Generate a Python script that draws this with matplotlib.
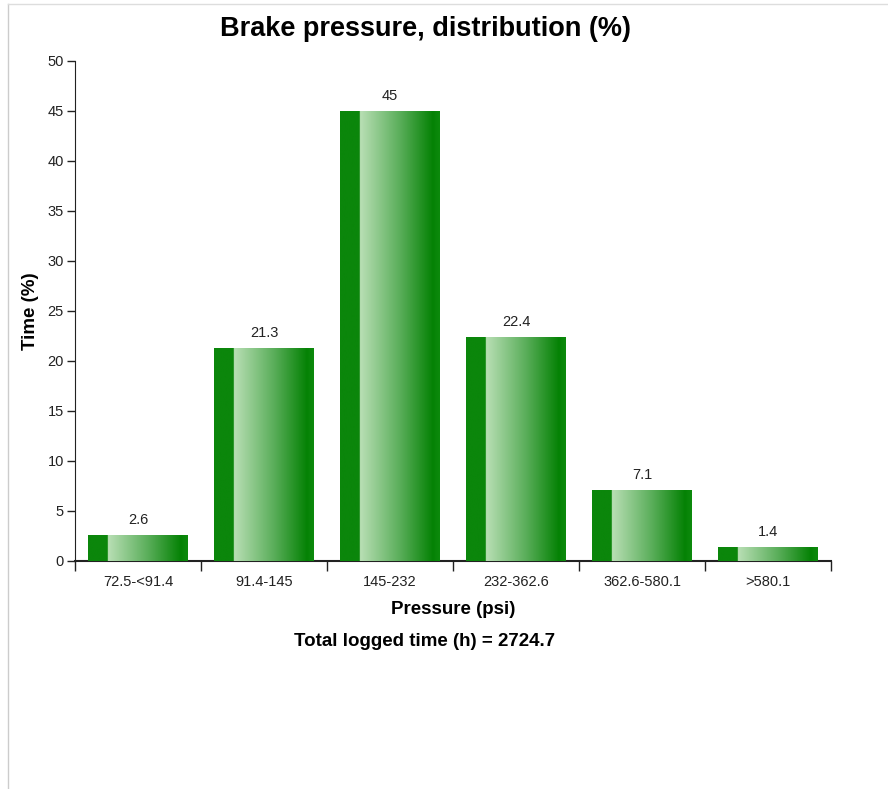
import matplotlib
matplotlib.use('Agg')
import matplotlib.pyplot as plt
import numpy as np
from matplotlib.colors import LinearSegmentedColormap
from matplotlib.lines import Line2D

plt.rcParams['font.family'] = ['Liberation Sans', 'DejaVu Sans']

# Data
categories = ['72.5-<91.4', '91.4-145', '145-232', '232-362.6', '362.6-580.1', '>580.1']
values = [2.6, 21.3, 45, 22.4, 7.1, 1.4]
total_time = 2724.7

W, H = 888, 789
fig = plt.figure(figsize=(W / 100, H / 100), dpi=100)

# Axes placed in pixel terms of the reference
left, right, top, bottom = 75, 831, 61, 561
ax = fig.add_axes([left / W, 1 - bottom / H, (right - left) / W, (bottom - top) / H])

# Horizontal gradient for the bars: dark strip on the left, then light -> dark
grad = LinearSegmentedColormap.from_list('bar', [
    (0.0, '#0b860b'), (0.195, '#0b860b'), (0.2, '#b9dfb5'),
    (0.6, '#5aae5a'), (0.93, '#058205'), (1.0, '#0d8a0d')])
gradient = np.linspace(0, 1, 256).reshape(1, -1)

x = np.arange(len(categories))
width = 100 / 126
bars = ax.bar(x, values, width=width, color='#0b860b', edgecolor='none', zorder=2)
for b in bars:
    x0, y0 = b.get_x(), b.get_y()
    im = ax.imshow(gradient, cmap=grad, aspect='auto', zorder=3,
                   extent=(x0, x0 + b.get_width(), y0, y0 + b.get_height()))
    im.set_clip_path(b)

for xi, v in zip(x, values):
    ax.annotate(f'{v:g}', (xi, v), xytext=(0, 6), textcoords='offset points',
                ha='center', va='bottom', fontsize=10.5, color='#222222')

ax.set_xlim(-0.5, len(categories) - 0.5)
ax.set_ylim(0, 50)
ax.set_yticks(np.arange(0, 51, 5))
ax.set_xticks(x)
ax.set_xticklabels(categories, fontsize=10.5, color='#222222')
ax.set_xticks(np.arange(-0.5, len(categories)), minor=True)
ax.tick_params(axis='x', which='major', length=0, pad=10)
ax.tick_params(axis='x', which='minor', length=7, width=1, color='#222222')
ax.tick_params(axis='y', length=6, width=1, color='#222222', labelsize=10.5,
               labelcolor='#222222', pad=2)

for s in ['top', 'right']:
    ax.spines[s].set_visible(False)
ax.spines['left'].set_color('#222222')
ax.spines['bottom'].set_color('#222222')
ax.spines['bottom'].set_linewidth(1.5)

ax.set_xlabel('Pressure (psi)', fontsize=13.5, fontweight='bold', labelpad=9)
ax.set_ylabel('Time (%)', fontsize=13.5, fontweight='bold', labelpad=6)

fig.text(425 / W, 1 - 29 / H, 'Brake pressure, distribution (%)', ha='center',
         va='center', fontsize=19.5, fontweight='bold')
fig.text(425 / W, 1 - 641 / H, f'Total logged time (h) = {total_time}', ha='center',
         va='center', fontsize=13.5, fontweight='bold')

# Thin frame lines of the page
fig.add_artist(Line2D([7.5 / W, 7.5 / W], [0, 1 - 3.5 / H], color='#cccccc', lw=1))
fig.add_artist(Line2D([7.5 / W, 1], [1 - 3.5 / H, 1 - 3.5 / H], color='#dddddd', lw=1))

fig.savefig('out.png', dpi=100)
